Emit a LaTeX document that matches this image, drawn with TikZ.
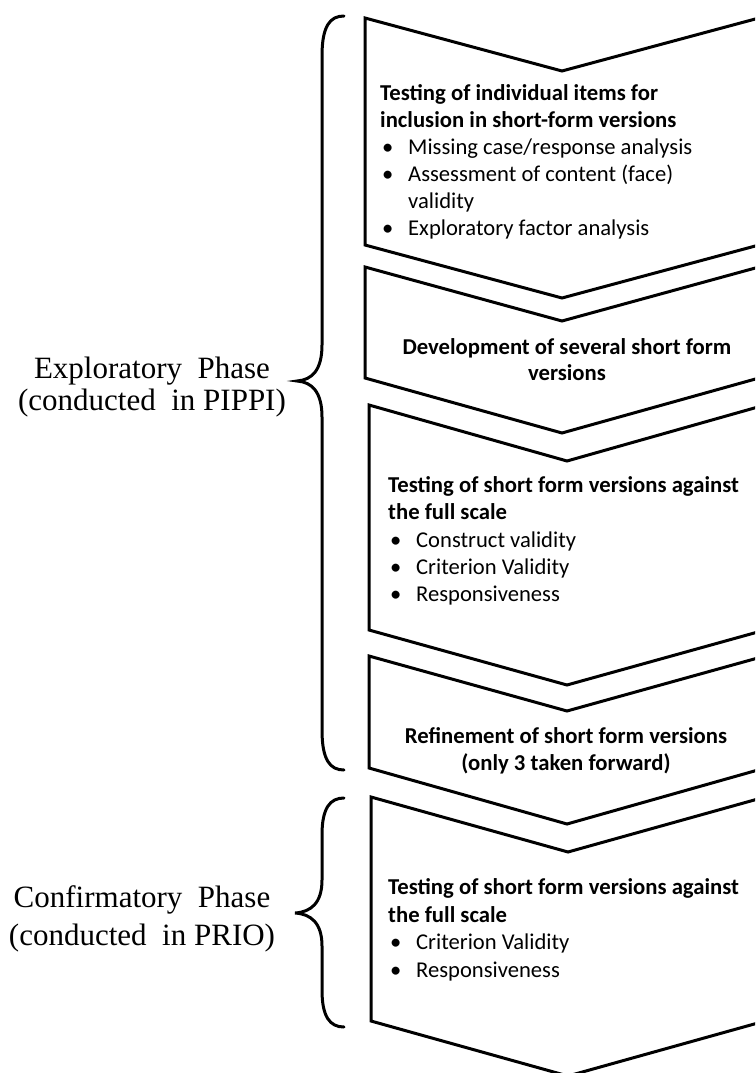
\documentclass[tikz,border=0pt]{standalone}
\usepackage{fontspec}
\setmainfont{Liberation Serif}
\newfontfamily\calfont{Carlito}
\newcommand\bul{\makebox[26pt][l]{\textbullet}}
\begin{document}
\begin{tikzpicture}[x=1pt,y=-1pt,
  chev/.style={draw=black,line width=3pt,line join=miter},
  head/.style={font=\calfont\bfseries\fontsize{22.7}{27}\selectfont,anchor=base west,inner sep=0pt},
  headc/.style={font=\calfont\bfseries\fontsize{22.7}{27}\selectfont,anchor=base,inner sep=0pt},
  item/.style={font=\calfont\fontsize{22.6}{27}\selectfont,anchor=base west,inner sep=0pt},
  phase/.style={font=\fontsize{31}{36}\selectfont,anchor=base,inner sep=0pt},
  bracestyle/.style={draw=black,line width=3pt,line cap=round}]
\useasboundingbox (0,0) rectangle (755,1073);
\begin{scope}
\clip (0,0) rectangle (755,1073);
% chevrons
\draw[chev] (365,18) -- (562,71) -- (759,18) -- (759,245) -- (562,298) -- (365,245) -- cycle;
\draw[chev] (365,267) -- (562,321) -- (759,267) -- (759,378) -- (562,433) -- (365,378) -- cycle;
\draw[chev] (369,405) -- (567,461) -- (765,405) -- (765,630) -- (567,685) -- (369,630) -- cycle;
\draw[chev] (369,656) -- (567,711) -- (765,656) -- (765,768) -- (567,824) -- (369,768) -- cycle;
\draw[chev] (371,797) -- (568,852) -- (765,797) -- (765,1021) -- (568,1076) -- (371,1021) -- cycle;
% braces
\draw[bracestyle] (344,16) .. controls (330,16) and (322,26) .. (322,56) -- (322,345) .. controls (322,370) and (312,380) .. (297,381) .. controls (312,382) and (322,392) .. (322,417) -- (322,730) .. controls (322,760) and (330,770) .. (344,770);
\draw[bracestyle] (344,798) .. controls (330,798) and (322,808) .. (322,835) -- (322,880) .. controls (322,903) and (311,912) .. (295,913) .. controls (311,914) and (322,923) .. (322,946) -- (322,990) .. controls (322,1017) and (330,1027) .. (344,1027);
\end{scope}
% box 1
\node[head] (h1a) at (380,100) {Testing of individual items for};
\node[head] (h1b) at (380,127) {inclusion in short-form versions};
\node[item] (i1a) at (382,154) {\bul Missing case/response analysis};
\node[item] (i1b) at (382,181) {\bul Assessment of content (face)};
\node[item] (i1c) at (408,208) {validity};
\node[item] (i1d) at (382,235) {\bul Exploratory factor analysis};
% box 2
\node[headc] (h2a) at (567,354) {Development of several short form};
\node[headc] (h2b) at (567,380) {versions};
% box 3
\node[head] (h3a) at (388,492) {Testing of short form versions against};
\node[head] (h3b) at (388,519) {the full scale};
\node[item] (i3a) at (390,547) {\bul Construct validity};
\node[item] (i3b) at (390,574) {\bul Criterion Validity};
\node[item] (i3c) at (390,601) {\bul Responsiveness};
% box 4
\node[headc] (h4a) at (566,743) {Refinement of short form versions};
\node[headc] (h4b) at (566,770) {(only 3 taken forward)};
% box 5
\node[head] (h5a) at (388,894) {Testing of short form versions against};
\node[head] (h5b) at (388,922) {the full scale};
\node[item] (i5a) at (390,949) {\bul Criterion Validity};
\node[item] (i5b) at (390,977) {\bul Responsiveness};
% phase labels
\node[phase] (p1a) at (152,378) {Exploratory\ \ Phase};
\node[phase] (p1b) at (152,410) {(conducted\ \ in PIPPI)};
\node[phase] (p2a) at (142,907) {Confirmatory\ \ Phase};
\node[phase] (p2b) at (142,945) {(conducted\ \ in PRIO)};
\end{tikzpicture}
\end{document}
